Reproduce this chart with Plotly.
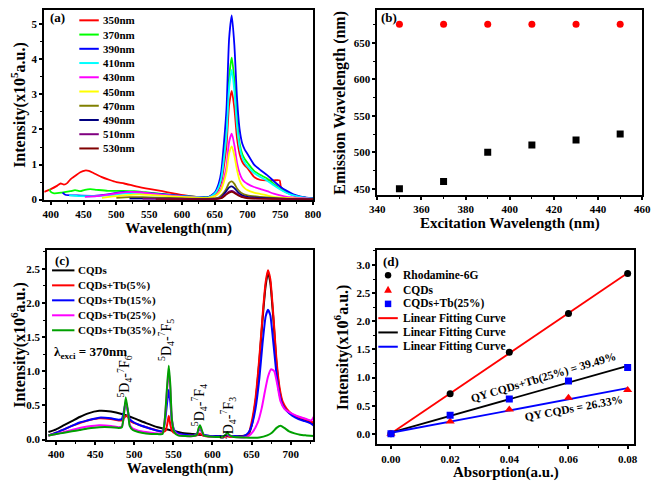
import plotly.graph_objects as go
import numpy as np

W, H = 661, 481
OFF = 8  # the page body margin shifts the figure by 8 px
FW, FH = W - OFF, H - OFF
FONT = "Liberation Serif"

# ---------------- Panel (a) data ----------------
a_labels = ["350nm", "370nm", "390nm", "410nm", "430nm", "450nm", "470nm", "490nm", "510nm", "530nm"]
a_colors = ["#FF0000", "#00FF00", "#0000FF", "#00FFFF", "#FF00FF", "#FFFF00", "#808000", "#000080", "#800080", "#800000"]

wl_350 = [390, 400, 410, 415, 420, 425, 430, 438, 445, 452, 458, 465, 477, 490, 500, 512, 530, 552, 570, 587, 605, 622, 640,
          650, 656, 660, 664, 668, 672, 676, 680, 684, 688, 692, 696, 700, 710, 720, 730, 740, 749, 751, 760, 770, 780, 790, 800]
int_350 = [0.22, 0.30, 0.40, 0.46, 0.43, 0.47, 0.58, 0.69, 0.78, 0.83, 0.82, 0.76, 0.65, 0.56, 0.50, 0.46, 0.38, 0.30, 0.24, 0.18, 0.12, 0.08, 0.07,
           0.14, 0.30, 0.50, 0.95, 1.55, 2.70, 3.10, 2.60, 1.75, 1.30, 1.08, 0.97, 0.90, 0.65, 0.56, 0.55, 0.55, 0.55, 0.36, 0.22, 0.13, 0.08, 0.05, 0.03]

wl_370 = [398, 400, 405, 417, 430, 437, 445, 452, 460, 470, 487, 510, 527, 545, 562, 585, 611, 630, 640,
          650, 656, 660, 664, 668, 672, 676, 680, 684, 688, 692, 696, 700, 710, 720, 730, 740, 750, 760, 770, 780, 790, 800]
int_370 = [0.30, 0.22, 0.18, 0.20, 0.24, 0.27, 0.24, 0.28, 0.30, 0.28, 0.25, 0.25, 0.24, 0.21, 0.18, 0.13, 0.09, 0.07, 0.07,
           0.18, 0.38, 0.65, 1.25, 2.00, 3.50, 4.05, 3.40, 2.30, 1.60, 1.30, 1.15, 1.05, 0.82, 0.70, 0.60, 0.45, 0.31, 0.20, 0.13, 0.08, 0.05, 0.04]

wl_390 = [418, 422, 440, 466, 487, 500, 516, 536, 560, 587, 610, 630, 640,
          650, 656, 660, 664, 668, 672, 676, 680, 684, 688, 692, 696, 700, 710, 720, 730, 740, 750, 760, 770, 780, 790, 800]
int_390 = [0.20, 0.14, 0.12, 0.11, 0.15, 0.19, 0.22, 0.20, 0.17, 0.13, 0.09, 0.07, 0.07,
           0.20, 0.45, 0.80, 1.60, 2.60, 4.60, 5.25, 4.40, 2.90, 2.00, 1.60, 1.42, 1.30, 1.00, 0.84, 0.70, 0.53, 0.37, 0.25, 0.15, 0.09, 0.06, 0.04]

wl_410 = [428, 445, 470, 490, 510, 530, 550, 575, 600, 625, 640,
          650, 656, 660, 664, 668, 672, 676, 680, 684, 688, 692, 696, 700, 710, 720, 730, 740, 750, 760, 770, 780, 790, 800]
int_410 = [0.12, 0.10, 0.10, 0.13, 0.17, 0.19, 0.17, 0.13, 0.09, 0.07, 0.06,
           0.17, 0.35, 0.60, 1.15, 1.85, 3.20, 3.70, 3.10, 2.10, 1.50, 1.20, 1.05, 0.95, 0.76, 0.64, 0.54, 0.41, 0.29, 0.19, 0.12, 0.08, 0.05, 0.03]

wl_430 = [452, 470, 490, 505, 520, 535, 555, 580, 605, 625, 640,
          650, 656, 660, 664, 668, 672, 676, 680, 684, 688, 692, 696, 700, 710, 720, 730, 740, 750, 760, 780, 800]
int_430 = [0.08, 0.10, 0.15, 0.19, 0.22, 0.21, 0.17, 0.12, 0.08, 0.06, 0.05,
           0.10, 0.20, 0.32, 0.60, 0.95, 1.65, 1.88, 1.55, 1.05, 0.75, 0.58, 0.50, 0.45, 0.36, 0.30, 0.24, 0.17, 0.12, 0.08, 0.05, 0.02]

wl_450 = [478, 495, 515, 535, 555, 580, 605, 630, 640,
          650, 656, 660, 664, 668, 672, 676, 680, 684, 688, 692, 696, 700, 710, 720, 730, 740, 760, 800]
int_450 = [0.05, 0.09, 0.13, 0.15, 0.13, 0.10, 0.07, 0.05, 0.05,
           0.10, 0.18, 0.28, 0.50, 0.80, 1.32, 1.52, 1.25, 0.85, 0.55, 0.40, 0.32, 0.27, 0.20, 0.16, 0.12, 0.08, 0.05, 0.02]

wl_470 = [500, 520, 540, 560, 600, 640, 656, 664, 668, 672, 676, 680, 684, 690, 700, 720, 740, 760, 800]
int_470 = [0.05, 0.07, 0.07, 0.06, 0.04, 0.03, 0.06, 0.20, 0.32, 0.48, 0.52, 0.45, 0.32, 0.20, 0.12, 0.08, 0.05, 0.03, 0.01]

wl_490 = [520, 560, 600, 650, 660, 666, 672, 676, 680, 686, 692, 700, 720, 760, 800]
int_490 = [0.03, 0.03, 0.02, 0.02, 0.07, 0.20, 0.35, 0.38, 0.33, 0.20, 0.12, 0.08, 0.05, 0.02, 0.01]

wl_510 = [540, 600, 650, 660, 666, 672, 676, 680, 686, 692, 700, 720, 800]
int_510 = [0.02, 0.02, 0.01, 0.05, 0.14, 0.23, 0.25, 0.22, 0.14, 0.08, 0.05, 0.03, 0.01]

wl_530 = [560, 600, 650, 660, 666, 672, 676, 680, 686, 692, 700, 720, 800]
int_530 = [0.01, 0.01, 0.01, 0.04, 0.12, 0.20, 0.22, 0.19, 0.12, 0.07, 0.04, 0.02, 0.01]

a_x = [wl_350, wl_370, wl_390, wl_410, wl_430, wl_450, wl_470, wl_490, wl_510, wl_530]
a_y = [int_350, int_370, int_390, int_410, int_430, int_450, int_470, int_490, int_510, int_530]

# ---------------- Panel (b) data ----------------
exc_wl = [350, 370, 390, 410, 430, 450]
em_peak_red = [676, 676, 676, 676, 676, 676]
em_peak_black = [450, 460, 500, 510, 517, 525]

# ---------------- Panel (c) data ----------------
c_labels = ["CQDs", "CQDs+Tb(5%)", "CQDs+Tb(15%)", "CQDs+Tb(25%)", "CQDs+Tb(35%)"]
c_colors = ["#000000", "#FF0000", "#0000FF", "#FF00FF", "#00A000"]

c_wl_0 = [390, 400, 410, 420, 430, 440, 455, 470, 485, 500, 515, 530, 545, 560, 575, 590, 605, 620, 635, 642, 646, 650, 655, 660, 664, 668,
          671, 674, 678, 682, 686, 690, 695, 702, 710, 718, 725, 730]
c_int_0 = [0.11, 0.15, 0.21, 0.27, 0.33, 0.38, 0.42, 0.41, 0.37, 0.31, 0.24, 0.18, 0.14, 0.10, 0.08, 0.06, 0.05, 0.05, 0.05, 0.06, 0.07, 0.20,
           0.55, 1.15, 1.75, 2.25, 2.45, 2.30, 1.75, 1.10, 0.70, 0.52, 0.43, 0.36, 0.32, 0.28, 0.26, 0.23]

c_wl_5 = [390, 400, 410, 420, 430, 440, 455, 470, 480, 484, 487, 490, 493, 496, 500, 515, 530, 536, 540, 542, 544, 546, 548, 552, 560,
          575, 580, 582, 584, 586, 590, 605, 617, 619, 621, 630, 640, 646, 650, 655, 660, 664, 668, 671, 674, 678, 682, 686, 690, 695,
          702, 710, 718, 725, 730]
c_int_5 = [0.06, 0.10, 0.15, 0.20, 0.24, 0.28, 0.31, 0.30, 0.28, 0.28, 0.32, 0.35, 0.31, 0.26, 0.24, 0.18, 0.13, 0.11, 0.13, 0.22, 0.35,
           0.22, 0.13, 0.09, 0.07, 0.06, 0.06, 0.08, 0.09, 0.07, 0.05, 0.04, 0.04, 0.05, 0.04, 0.04, 0.05, 0.08, 0.25, 0.60, 1.20, 1.80,
           2.30, 2.48, 2.35, 1.80, 1.15, 0.75, 0.55, 0.45, 0.37, 0.33, 0.30, 0.27, 0.24]

c_wl_15 = [390, 400, 410, 420, 430, 440, 455, 470, 480, 484, 486, 489, 492, 494, 498, 505, 515, 530, 536, 539, 542, 544, 546, 548, 551,
           556, 565, 575, 580, 582, 584, 586, 589, 600, 612, 617, 619, 621, 626, 640, 646, 650, 655, 660, 664, 668, 671, 674, 678, 682,
           686, 690, 695, 702, 710, 718, 725, 730]
c_int_15 = [0.06, 0.10, 0.15, 0.20, 0.25, 0.28, 0.32, 0.31, 0.29, 0.30, 0.38, 0.55, 0.40, 0.30, 0.26, 0.22, 0.18, 0.13, 0.12, 0.25, 0.55,
            0.73, 0.55, 0.28, 0.14, 0.09, 0.07, 0.06, 0.08, 0.13, 0.16, 0.12, 0.07, 0.05, 0.05, 0.06, 0.07, 0.06, 0.05, 0.05, 0.10, 0.20,
            0.45, 0.90, 1.40, 1.80, 1.90, 1.82, 1.40, 0.95, 0.65, 0.50, 0.42, 0.35, 0.30, 0.27, 0.24, 0.20]

c_wl_25 = [390, 400, 410, 420, 430, 440, 455, 470, 480, 484, 486, 489, 492, 494, 498, 505, 515, 530, 536, 539, 542, 544, 546, 548, 551,
           556, 565, 575, 580, 582, 584, 586, 589, 600, 612, 617, 619, 621, 626, 640, 646, 652, 658, 663, 667, 671, 675, 679, 683, 687,
           692, 698, 705, 712, 720, 726, 728, 730]
c_int_25 = [0.06, 0.08, 0.11, 0.14, 0.17, 0.19, 0.21, 0.20, 0.18, 0.19, 0.30, 0.58, 0.38, 0.22, 0.16, 0.13, 0.11, 0.09, 0.09, 0.30, 0.75,
            1.00, 0.75, 0.30, 0.12, 0.07, 0.05, 0.05, 0.07, 0.14, 0.18, 0.13, 0.06, 0.04, 0.04, 0.06, 0.09, 0.06, 0.04, 0.03, 0.05, 0.12,
            0.25, 0.46, 0.70, 0.92, 1.03, 1.00, 0.80, 0.56, 0.45, 0.40, 0.36, 0.33, 0.30, 0.28, 0.30, 0.34]

c_wl_35 = [390, 400, 410, 420, 430, 440, 455, 470, 480, 484, 486, 489, 492, 494, 498, 505, 515, 530, 536, 539, 542, 544, 546, 548, 551,
           556, 565, 575, 580, 582, 584, 586, 589, 600, 612, 617, 619, 621, 626, 640, 660, 670, 676, 682, 687, 692, 698, 705, 712, 720, 730]
c_int_35 = [0.06, 0.08, 0.10, 0.12, 0.14, 0.16, 0.18, 0.18, 0.17, 0.18, 0.30, 0.62, 0.40, 0.20, 0.14, 0.11, 0.09, 0.08, 0.08, 0.30, 0.80,
            1.08, 0.80, 0.30, 0.11, 0.06, 0.05, 0.05, 0.07, 0.16, 0.21, 0.15, 0.06, 0.04, 0.04, 0.07, 0.11, 0.07, 0.04, 0.03, 0.03, 0.06,
            0.10, 0.17, 0.20, 0.17, 0.12, 0.09, 0.07, 0.06, 0.05]

c_x = [c_wl_0, c_wl_5, c_wl_15, c_wl_25, c_wl_35]
c_y = [c_int_0, c_int_5, c_int_15, c_int_25, c_int_35]

# ---------------- Panel (d) data ----------------
absorption = [0.0, 0.02, 0.04, 0.06, 0.08]
rhodamine = [0.0, 0.71, 1.45, 2.14, 2.85]
cqds_qy = [0.0, 0.22, 0.43, 0.64, 0.78]
cqds_tb_qy = [0.0, 0.33, 0.62, 0.94, 1.18]
d_labels = ["Rhodamine-6G", "CQDs", "CQDs+Tb(25%)", "Linear Fitting Curve", "Linear Fitting Curve", "Linear Fitting Curve"]

# ---------------- Figure ----------------
fig = go.Figure()

def px(x):
    return (x - OFF) / FW

def py(y):
    return 1 - (y - OFF) / FH

for xs, ys, col, lab in zip(a_x, a_y, a_colors, a_labels):
    fig.add_trace(go.Scatter(x=xs, y=ys, mode="lines", name=lab, xaxis="x", yaxis="y",
                             line=dict(color=col, width=1.8, shape="spline", smoothing=0.6), showlegend=False))

fig.add_trace(go.Scatter(x=exc_wl, y=em_peak_red, mode="markers", xaxis="x2", yaxis="y2",
                         marker=dict(symbol="circle", color="#FF0000", size=7), showlegend=False))
fig.add_trace(go.Scatter(x=exc_wl, y=em_peak_black, mode="markers", xaxis="x2", yaxis="y2",
                         marker=dict(symbol="square", color="#000000", size=7), showlegend=False))

for xs, ys, col, lab in zip(c_x, c_y, c_colors, c_labels):
    fig.add_trace(go.Scatter(x=xs, y=ys, mode="lines", name=lab, xaxis="x3", yaxis="y3",
                             line=dict(color=col, width=2, shape="spline", smoothing=0.5), showlegend=False))

ab = np.array(absorption)
fit_x = [absorption[0], absorption[-1]]
for ys, col in [(rhodamine, "#FF0000"), (cqds_tb_qy, "#000000"), (cqds_qy, "#0000FF")]:
    k, b = np.polyfit(ab, np.array(ys), 1)
    fig.add_trace(go.Scatter(x=fit_x, y=[k * v + b for v in fit_x], mode="lines", xaxis="x4", yaxis="y4",
                             line=dict(color=col, width=1.8), showlegend=False))
fig.add_trace(go.Scatter(x=absorption, y=rhodamine, mode="markers", xaxis="x4", yaxis="y4",
                         marker=dict(symbol="circle", color="#000000", size=7), showlegend=False))
fig.add_trace(go.Scatter(x=absorption, y=cqds_qy, mode="markers", xaxis="x4", yaxis="y4",
                         marker=dict(symbol="triangle-up", color="#FF0000", size=8), showlegend=False))
fig.add_trace(go.Scatter(x=absorption, y=cqds_tb_qy, mode="markers", xaxis="x4", yaxis="y4",
                         marker=dict(symbol="square", color="#0000FF", size=7), showlegend=False))

tickfont = dict(family=FONT, size=11, color="black", weight="bold")
xtitlefont = dict(family=FONT, size=15, color="black", weight="bold")
ytitlefont = dict(family=FONT, size=16, color="black", weight="bold")

def ax(domain, rng, dtick, minor_dtick, title, tick0=None, anchor=None, standoff=0, tfont=None):
    d = dict(domain=domain, range=rng, dtick=dtick, showline=True, linewidth=2, linecolor="black", mirror=True,
             ticks="outside", ticklen=3, tickwidth=1.5, tickcolor="black", showgrid=False, zeroline=False,
             tickfont=tickfont, title=dict(text=title, font=tfont, standoff=standoff),
             minor=dict(ticks="outside", ticklen=2, tickwidth=1, tickcolor="black", dtick=minor_dtick, showgrid=False),
             anchor=anchor)
    if tick0 is not None:
        d["tick0"] = tick0
        d["minor"]["tick0"] = tick0
    return d

TOP = 9.5
a_top_val = (201.5 - TOP) / 35.6
b_top_val = 450 + (190 - TOP) / (184.3 / 250)
dom_a = ([px(37), px(313)], [py(201.5), py(TOP)])
dom_b = ([px(379), px(651)], [py(197), py(TOP)])
dom_c = ([px(40), px(313)], [py(445), py(253)])
dom_d = ([px(379), px(643)], [py(450), py(253)])

fig.update_layout(
    width=FW, height=FH, margin=dict(l=0, r=0, t=0, b=0),
    paper_bgcolor="white", plot_bgcolor="white", showlegend=False,
    xaxis=ax(dom_a[0], [390, 800], 50, 25, "Wavelength(nm)", anchor="y", tfont=xtitlefont),
    yaxis=ax(dom_a[1], [0, a_top_val], 1, 0.5, "Intensity(x10<sup>5</sup>a.u.)", anchor="x", standoff=5, tfont=ytitlefont),
    xaxis2=ax(dom_b[0], [340, 460], 20, 10, "Excitation Wavelength (nm)", anchor="y2", tfont=xtitlefont),
    yaxis2=ax(dom_b[1], [441, b_top_val], 50, 25, "Emission Wavelength (nm)", tick0=450, anchor="x2", standoff=4, tfont=ytitlefont),
    xaxis3=ax(dom_c[0], [388.4, 728.7], 50, 25, "Wavelength(nm)", anchor="y3", tfont=xtitlefont),
    yaxis3=ax(dom_c[1], [0, 2.77], 0.5, 0.25, "Intensity(x10<sup>6</sup>a.u.)", anchor="x3", standoff=4, tfont=ytitlefont),
    xaxis4=ax(dom_d[0], [-0.0046, 0.0823], 0.02, 0.01, "Absorption(a.u.)", anchor="y4", tfont=xtitlefont),
    yaxis4=ax(dom_d[1], [-0.19, 3.26], 0.5, 0.25, "Intensity(x10<sup>6</sup>a.u.)", anchor="x4", standoff=4, tfont=ytitlefont),
)
fig.layout.xaxis4.tickformat = ".2f"
fig.layout.yaxis4.tickformat = ".1f"
fig.layout.yaxis3.tickformat = ".1f"

shapes = []
annos = []

def legend_line(x0, x1, y, color):
    shapes.append(dict(type="line", xref="paper", yref="paper", x0=px(x0), x1=px(x1), y0=py(y), y1=py(y),
                       line=dict(color=color, width=2)))

def text(x, y, s, size=11, xanchor="left", angle=0, bold=True, yanchor="middle"):
    f = dict(family=FONT, size=size, color="black")
    if bold:
        f["weight"] = "bold"
    annos.append(dict(x=px(x), y=py(y), xref="paper", yref="paper", text=s, showarrow=False,
                      xanchor=xanchor, yanchor=yanchor, font=f, textangle=angle))

# legend (a)
for i, (lab, col) in enumerate(zip(a_labels, a_colors)):
    y = 19.5 + i * 14.45
    legend_line(73, 93, y, col)
    text(95.5, y, lab)
text(41, 17, "(a)", size=13)
text(381, 17, "(b)", size=13)

# legend (c)
for i, (lab, col) in enumerate(zip(c_labels, c_colors)):
    y = 273.3 + i * 15.2
    legend_line(45, 68, y, col)
    text(70, y, lab)
text(46, 263, "(c)", size=13)
text(45, 357, "λ<sub>exci</sub> = 370nm", size=13)
text(120, 381, "<sup>5</sup>D<sub>4</sub>-<sup>7</sup>F<sub>6</sub>", size=14, xanchor="center", angle=-90, bold=False)
text(162, 344, "<sup>5</sup>D<sub>4</sub>-<sup>7</sup>F<sub>5</sub>", size=14, xanchor="center", angle=-90, bold=False)
text(196, 410, "<sup>5</sup>D<sub>4</sub>-<sup>7</sup>F<sub>4</sub>", size=14, xanchor="center", angle=-90, bold=False)
text(226, 423, "<sup>5</sup>D<sub>4</sub>-<sup>7</sup>F<sub>3</sub>", size=14, xanchor="center", angle=-90, bold=False)

# legend (d)
d_rows = [278.3, 292.8, 307.3, 321.8, 336.3, 350.8]
r = 3.3
shapes.append(dict(type="circle", xref="paper", yref="paper", x0=px(390 - r), x1=px(390 + r),
                   y0=py(d_rows[0] + r), y1=py(d_rows[0] - r), fillcolor="black", line=dict(width=0)))
yy = d_rows[1]
shapes.append(dict(type="path", xref="paper", yref="paper",
                   path=f"M {px(386)},{py(yy + 3.3)} L {px(394)},{py(yy + 3.3)} L {px(390)},{py(yy - 4)} Z",
                   fillcolor="#FF0000", line=dict(width=0)))
yy = d_rows[2]
shapes.append(dict(type="rect", xref="paper", yref="paper", x0=px(386.7), x1=px(393.3),
                   y0=py(yy + 3.3), y1=py(yy - 3.3), fillcolor="#0000FF", line=dict(width=0)))
legend_line(380, 400, d_rows[3], "#FF0000")
legend_line(380, 400, d_rows[4], "#000000")
legend_line(380, 400, d_rows[5], "#0000FF")
for y, lab in zip(d_rows, d_labels):
    text(403, y, lab, size=11.5)
text(383, 264, "(d)", size=13)
text(550, 381.7, "QY CQDs+Tb(25%) = 39.49%", size=11.5, xanchor="center", angle=-16.5)
text(580.7, 412.7, "QY CQDs = 26.33%", size=11.5, xanchor="center", angle=-10.5)

fig.update_layout(shapes=shapes, annotations=annos)
fig.write_html("out.html")
